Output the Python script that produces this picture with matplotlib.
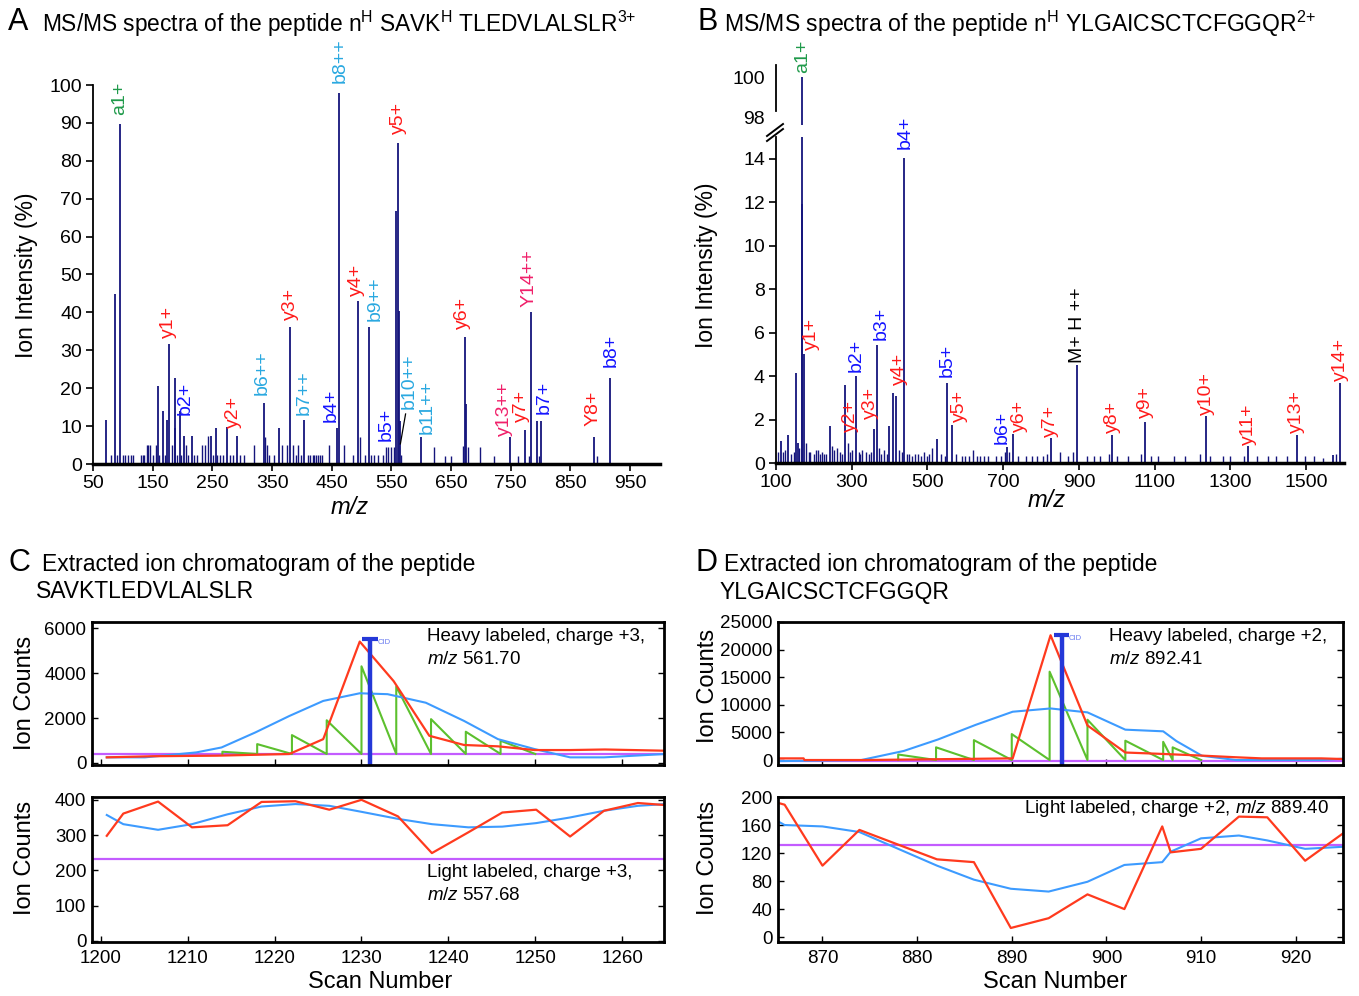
import matplotlib
matplotlib.use("Agg")
from matplotlib import pyplot as plt

plt.rcParams['font.family'] = ['Liberation Sans', 'DejaVu Sans']
plt.rcParams['mathtext.fontset'] = 'custom'
plt.rcParams['mathtext.rm'] = 'Liberation Sans'
plt.rcParams['mathtext.it'] = 'Liberation Sans:italic'

# ---------------- panel A : MS/MS spectrum, heavy SAVKTLEDVLALSLR ----------------
A_MZ = [72.6, 86.2, 95.2, 159.6, 167, 174, 177, 186.7, 188, 195, 202, 216.7, 247.7,
        255.6, 273.7, 291, 337, 362, 380, 403, 459.6, 462.4, 494, 511.6, 558.5, 560.7,
        562, 564, 599, 673.7, 675, 748.9, 774, 784.5, 794, 800.8, 890, 917]
A_INT = [11.7, 44.8, 89.7, 20.5, 13.9, 11.7, 31.6, 22.7, 9.5, 14, 7.3, 7.3, 7.3,
         9.5, 9.8, 7.3, 16, 9.5, 36.1, 11.7, 9.5, 98, 42.9, 36.1, 66.8, 84.8,
         40.4, 11.4, 7, 33.6, 15.8, 7, 9, 40.2, 11.4, 11.4, 7, 22.7]
A_SMALL_MZ = [80, 90, 100, 104, 108, 113, 117, 131, 134, 136, 140, 142, 146, 150, 155,
              160, 170, 183, 190, 198, 206, 210, 220, 225, 232, 238, 243, 251, 258, 262,
              268, 280, 284, 296, 303, 319, 339, 341, 345, 354, 366, 375, 385, 390, 394,
              398, 410, 414, 418, 421, 424, 427, 430, 434, 445, 470, 486, 497, 506, 515,
              520, 527, 536, 541, 545, 549, 555, 566, 622, 639, 650, 670, 678, 698, 722,
              762, 780, 797, 894]
A_SMALL_INT = [2.5, 2.5, 2.5, 2.5, 2.5, 2.5, 2.5, 2.5, 2.5, 2.5, 5, 5, 5, 2.5, 5,
               2.5, 2.5, 5, 2.5, 2.5, 5, 2.5, 2.5, 2.5, 5, 5, 7.3, 2.5, 2.5, 2.5,
               2.5, 2.5, 2.5, 2.5, 2.5, 5, 7, 5, 2.5, 2.5, 5, 5, 5, 2.5, 5,
               2.5, 2.5, 2.5, 2.5, 2.5, 2.5, 2.5, 2.5, 2.5, 5, 5, 2.5, 7, 2.5, 2.5,
               2.5, 2.5, 2.5, 4.6, 4.6, 4.6, 4.6, 2.5, 4.6, 2.2, 2.2, 4.8, 4.6, 4.6, 2.2,
               2.2, 2.2, 2.2, 2.2]
A_LABELS = ['a1+', 'y1+', 'b2+', 'y2+', 'b6++', 'y3+', 'b7++', 'b4+', 'b8++', 'y4+',
            'b9++', 'b5+', 'y5+', 'b10++', 'b11++', 'y6+', 'y13++', 'y7+', 'Y14++',
            'b7+', 'Y8+', 'b8+']
A_LABEL_MZ = [95.2, 177, 203.7, 285.6, 333.6, 381.6, 404.2, 449.4, 463.6, 491,
              522, 541.5, 562.4, 579, 610.5, 669.8, 740, 768.6, 780, 805.4, 887.3, 918.4]
A_LABEL_INT = [92.1, 33.2, 13, 9.5, 18.3, 38, 13, 11.2, 100.5, 44.2,
               37.6, 6.2, 87, 14.5, 7.9, 35.6, 7.5, 11, 41.3, 13.2, 10.1, 25.5]
A_LABEL_KIND = ['a', 'y', 'b', 'y', 'b2', 'y', 'b2', 'b', 'b2', 'y',
                'b2', 'b', 'y', 'b2', 'b2', 'y', 'y2', 'y', 'y2', 'b', 'y', 'b']

# ---------------- panel B : MS/MS spectrum, heavy YLGAICSCTCFGGQR ----------------
B_MZ = [112, 132.6, 152, 157, 167.8, 169.6, 174, 242.7, 282.4, 311.5, 360, 367.8,
        399.6, 410, 417, 439.2, 524.7, 552.9, 564.3, 711, 724.7, 827, 893.8, 986.3,
        1074.4, 1234.8, 1347.6, 1475.3, 1572, 1589]
B_INT = [1.0, 1.3, 4.16, 0.9, 11.9, 100, 5.03, 1.7, 3.6, 3.99, 1.58, 5.44,
         1.7, 3.24, 3.1, 14.05, 1.09, 3.7, 1.73, 0.74, 1.35, 1.17, 4.49, 1.30,
         1.87, 2.18, 0.77, 1.30, 0.38, 3.68]
B_NOISE_MZ = [105, 118, 125, 140, 147, 162, 180, 186, 190, 200, 206, 212, 217, 222, 227,
              232, 247, 254, 262, 268, 275, 290, 295, 300, 318, 323, 328, 338, 346, 352,
              372, 378, 385, 392, 425, 432, 445, 450, 460, 468, 475, 483, 490, 498, 505,
              512, 535, 545, 575, 590, 600, 610, 620, 632, 640, 650, 660, 680, 695, 705,
              715, 740, 760, 775, 790, 805, 815, 850, 870, 885, 920, 940, 955, 980, 1000,
              1030, 1065, 1090, 1110, 1150, 1180, 1220, 1245, 1280, 1300, 1335, 1370,
              1400, 1420, 1450, 1498, 1520, 1545, 1580]
B_NOISE_INT = [0.5, 0.5, 0.6, 0.4, 0.5, 0.7, 0.9, 0.5, 0.5, 0.4, 0.6, 0.6, 0.4, 0.5, 0.4,
               0.4, 0.8, 0.6, 0.7, 0.5, 0.4, 0.9, 0.5, 0.6, 0.5, 0.4, 0.6, 0.5, 0.4, 0.5,
               0.7, 0.4, 0.6, 0.4, 0.6, 0.5, 0.4, 0.4, 0.3, 0.4, 0.4, 0.3, 0.5, 0.3, 0.4,
               0.7, 0.4, 0.3, 0.4, 0.3, 0.3, 0.3, 0.6, 0.3, 0.3, 0.3, 0.3, 0.3, 0.3, 0.5,
               0.5, 0.3, 0.3, 0.3, 0.3, 0.3, 0.4, 0.5, 0.3, 0.5, 0.3, 0.3, 0.3, 0.4, 0.3,
               0.3, 0.4, 0.3, 0.3, 0.3, 0.3, 0.4, 0.3, 0.3, 0.3, 0.3, 0.3,
               0.3, 0.3, 0.3, 0.3, 0.3, 0.23, 0.4]
B_LABELS = ['a1+', 'y1+', 'y2+', 'b2+', 'y3+', 'b3+', 'y4+', 'b4+', 'b5+', 'y5+', 'b6+',
            'y6+', 'y7+', 'M+ H ++', 'y8+', 'y9+', 'y10+', 'y11+', 'y13+', 'y14+']
B_LABEL_MZ = [169.6, 194.3, 297, 311.5, 350, 379, 426, 441, 551, 584.6, 696.5,
              743, 824, 895.6, 988, 1076, 1236.6, 1347.6, 1475, 1591.6]
B_LABEL_INT = [100.2, 5.18, 1.43, 4.19, 2.04, 5.64, 3.57, 14.46, 3.96, 1.89, 0.89,
               1.43, 1.2, 4.6, 1.38, 2.07, 2.22, 0.84, 1.38, 3.79]
B_LABEL_KIND = ['a', 'y', 'y', 'b', 'y', 'b', 'y', 'b', 'b', 'y', 'b',
                'y', 'y', 'M', 'y', 'y', 'y', 'y', 'y', 'y']

# ---------------- panel C : XIC SAVKTLEDVLALSLR ----------------
C_RED_SCAN = [1200.7, 1206, 1213.4, 1221.7, 1225.6, 1229.8, 1233.7, 1237.8, 1241.8,
              1245.7, 1249.9, 1254, 1258, 1265]
C_RED = [250, 300, 325, 400, 1060, 5400, 3640, 1210, 800, 740, 575, 575, 600, 545]
C_BLUE_SCAN = [1200.7, 1205.1, 1211, 1213.9, 1217.8, 1221.7, 1225.6, 1229.8, 1233,
               1237.4, 1241.8, 1245.7, 1249.9, 1254, 1257.9, 1265]
C_BLUE = [250, 250, 470, 690, 1360, 2090, 2760, 3100, 3060, 2680, 1870, 1060, 620,
          250, 250, 400]
C_MS2_SCAN = [1214, 1218, 1222, 1226, 1230, 1234, 1238, 1242, 1246, 1250]
C_MS2 = [500, 840, 1240, 1900, 4300, 3400, 1950, 1390, 990]
C_MS2_BASE = 400
C_BASELINE = 380
C_CID_SCAN = 1231
C_CID_TOP = 5500
C_LIGHT_SCAN = [1200.7, 1202.6, 1206.6, 1210.5, 1214.6, 1218.5, 1222.4, 1226.3, 1230,
                1234.2, 1238.1, 1242.3, 1246.2, 1250.1, 1254, 1257.9, 1261.8, 1265]
C_LIGHT_RED = [298, 361, 395, 322, 328, 394, 396, 372, 400, 353, 249, 308, 364, 372,
               296, 369, 391, 385]
C_LIGHT_BLUE = [357, 331, 315, 331, 359, 381, 388, 383, 366, 346, 331, 322, 324, 334,
                350, 369, 383, 388]
C_LIGHT_BASELINE = 231

# ---------------- panel D : XIC YLGAICSCTCFGGQR ----------------
D_RED_SCAN = [865.3, 868, 868.1, 874.5, 890.1, 894.1, 898, 902, 906, 910.1, 913.7,
              916.4, 922.7, 925]
D_RED = [300, 300, 0, 0, 300, 22600, 6260, 1360, 1100, 800, 500, 300, 300, 180]
D_BLUE_SCAN = [865.3, 874.1, 878.6, 882.2, 886.2, 890.1, 894.1, 898, 902, 906,
               907.4, 910.1, 913.7, 922.7, 925]
D_BLUE = [-200, 0, 1650, 3720, 6380, 8750, 9340, 8630, 5500, 5200, 3430, 770, 0, 0, 250]
D_MS2_SCAN = [878, 882, 886, 890, 894, 898, 902, 906, 907, 910]
D_MS2 = [1000, 2300, 3600, 4700, 16000, 7300, 3500, 3300, 2300]
D_MS2_BASE = 0
D_BASELINE = -150
D_CID_SCAN = 895.3
D_CID_TOP = 22600
D_LIGHT_SCAN = [865.2, 866, 870, 873.9, 878, 882.1, 886, 889.9, 893.9, 898, 901.9,
                905.9, 906.8, 910, 914, 917, 921, 925.1]
D_LIGHT_RED = [192, 189, 102, 153, 132, 111, 107, 13, 27, 61, 40, 158, 121, 126, 172,
               171, 109, 149]
D_LIGHT_BLUE = [166, 160, 158, 150, 126, 102, 82, 69, 65, 79, 103, 107, 122, 141,
                145, 138, 126, 129]
D_LIGHT_BASELINE = 131

# ---------------- styles ----------------
W, H = 1359, 996
PEAK = '#15157c'
KIND_COLOR = {'a': '#1f9a4a', 'y': '#ff1a1a', 'b': '#1414ff', 'b2': '#29a8e0',
              'y2': '#f0206a', 'M': 'black'}
XIC_RED, XIC_BLUE, XIC_GREEN, XIC_MAG = '#ff3a1e', '#3d9bff', '#5cc02e', '#c35cff'
CID = '#2438d8'
LABEL_FS = 14
TICK_FS = 14


def box(l, t, r, b):
    return [l / W, 1 - b / H, (r - l) / W, (b - t) / H]


def ftext(x, y, s, **kw):
    fig.text(x / W, 1 - y / H, s, **kw)


fig = plt.figure(figsize=(W / 100, H / 100), dpi=100)

# ---- A
axA = fig.add_axes(box(93, 85, 660, 464))
axA.vlines(A_SMALL_MZ, 0, A_SMALL_INT, color=PEAK, lw=1.0)
axA.vlines(A_MZ, 0, A_INT, color=PEAK, lw=1.3)
for lab, x, y, k in zip(A_LABELS, A_LABEL_MZ, A_LABEL_INT, A_LABEL_KIND):
    axA.text(x, y, lab, rotation=90, ha='center', va='bottom', fontsize=LABEL_FS,
             color=KIND_COLOR[k], clip_on=False)
axA.plot([573.7, 565], [13.2, 5.3], color='black', lw=0.9)
axA.set_xlim(50, 1000)
axA.set_ylim(0, 100)
axA.set_xticks(range(50, 1000, 100))
axA.set_yticks(range(0, 101, 10))
for s in ['top', 'right']:
    axA.spines[s].set_visible(False)
axA.spines['left'].set_linewidth(1.3)
axA.spines['bottom'].set_linewidth(2.5)
axA.tick_params(direction='out', length=5, width=1.2, labelsize=TICK_FS, pad=3)

ftext(8, 22, 'A', fontsize=22, va='center')
ftext(42, 24, r'MS/MS spectra of the peptide n$^{\mathrm{H}}$ SAVK$^{\mathrm{H}}$ TLEDVLALSLR$^{3{+}}$',
      fontsize=16.4, va='center')
ftext(26, 275, 'Ion Intensity (%)', fontsize=16.5, rotation=90, ha='center', va='center')
ftext(350, 508, 'm/z', fontsize=17, style='italic', ha='center', va='center')

# ---- B (broken y axis)
axB = fig.add_axes(box(776, 137, 1344, 463))
axBt = fig.add_axes(box(776, 65, 1344, 125))
axBt.patch.set_visible(False)
for ax in (axB, axBt):
    ax.vlines(B_NOISE_MZ, 0, B_NOISE_INT, color=PEAK, lw=1.0)
    ax.vlines(B_MZ, 0, B_INT, color=PEAK, lw=1.3)
    ax.set_xlim(100, 1600)
    for s in ['top', 'right']:
        ax.spines[s].set_visible(False)
axB.set_ylim(0, 15)
axB.set_yticks(range(0, 15, 2))
axB.set_xticks(range(100, 1600, 200))
axB.spines['left'].set_linewidth(1.3)
axB.spines['bottom'].set_linewidth(2.5)
axB.tick_params(direction='out', length=5, width=1.2, labelsize=TICK_FS, pad=3)
axBt.set_ylim(97.6, 100.6)
axBt.set_yticks([98, 100])
axBt.spines['bottom'].set_visible(False)
axBt.spines['left'].set_bounds(98.3, 100.6)
axBt.spines['left'].set_linewidth(1.3)
axBt.set_xticks([])
axBt.tick_params(axis='y', length=0, labelsize=TICK_FS, pad=8)
for lab, x, y, k in zip(B_LABELS, B_LABEL_MZ, B_LABEL_INT, B_LABEL_KIND):
    tgt = axBt if y > 50 else axB
    tgt.text(x, y, lab, rotation=90, ha='center', va='bottom', fontsize=LABEL_FS,
             color=KIND_COLOR[k], clip_on=False, zorder=5)
for dy in (0, 5):
    fig.add_artist(plt.Line2D([767 / W, 783 / W], [1 - (136 + dy) / H, 1 - (124 + dy) / H],
                              color='black', lw=1.4))

ftext(697, 22, 'B', fontsize=22, va='center')
ftext(724, 24, r'MS/MS spectra of the peptide n$^{\mathrm{H}}$ YLGAICSCTCFGGQR$^{2{+}}$',
      fontsize=16.6, va='center')
ftext(707, 265, 'Ion Intensity (%)', fontsize=16.5, rotation=90, ha='center', va='center')
ftext(1047, 500, 'm/z', fontsize=17, style='italic', ha='center', va='center')


# ---- C / D chromatograms
def xic_frame(ax, xlim, ylim, xticks, yticks, show_x):
    ax.set_xlim(*xlim)
    ax.set_ylim(*ylim)
    ax.set_xticks(xticks)
    ax.set_yticks(yticks)
    for s in ax.spines.values():
        s.set_linewidth(2)
    ax.tick_params(direction='in', length=4, width=1, right=True, labelsize=TICK_FS - 0.5)
    ax.tick_params(axis='x', pad=6)
    ax.tick_params(axis='y', pad=4)
    if not show_x:
        ax.tick_params(axis='x', labelbottom=False)


def sawtooth(scans, peaks, base):
    xs, ys = [scans[0]], [base]
    for i, p in enumerate(peaks):
        xs += [scans[i], scans[i + 1]]
        ys += [p, base]
    return xs, ys


def heavy(ax, rs, r, bs, b, ms_s, ms, ms_base, basel, cid_x, cid_top, cap):
    ax.axhline(basel, color=XIC_MAG, lw=1.6)
    xs, ys = sawtooth(ms_s, ms, ms_base)
    ax.plot(xs, ys, color=XIC_GREEN, lw=1.5)
    ax.plot(bs, b, color=XIC_BLUE, lw=1.5)
    ax.plot(rs, r, color=XIC_RED, lw=1.6)
    ax.vlines(cid_x, ax.get_ylim()[0], cid_top, color=CID, lw=3.2)
    ax.hlines(cid_top, cid_x - cap, cid_x + cap, color=CID, lw=3)
    ax.text(cid_x + cap * 0.9, cid_top, 'CID', fontsize=5.5, color='#6a7cf0',
            va='top', ha='left')


C_TICKS = list(range(1200, 1261, 10))
C_XLIM = (1199, 1264.8)
axC = fig.add_axes(box(92, 622, 664, 765))
xic_frame(axC, C_XLIM, (-90, 6270), C_TICKS, [0, 2000, 4000, 6000], False)
heavy(axC, C_RED_SCAN, C_RED, C_BLUE_SCAN, C_BLUE, C_MS2_SCAN, C_MS2, C_MS2_BASE,
      C_BASELINE, C_CID_SCAN, C_CID_TOP, 0.9)
axC.text(0.585, 0.90, 'Heavy labeled, charge +3,', transform=axC.transAxes, fontsize=13.5,
         va='center')
axC.text(0.585, 0.74, r'$\mathit{m/z}$ 561.70', transform=axC.transAxes, fontsize=13.5,
         va='center')

axC2 = fig.add_axes(box(92, 797, 664, 942))
xic_frame(axC2, C_XLIM, (-3, 408), C_TICKS, [0, 100, 200, 300, 400], True)
axC2.axhline(C_LIGHT_BASELINE, color=XIC_MAG, lw=1.6)
axC2.plot(C_LIGHT_SCAN, C_LIGHT_BLUE, color=XIC_BLUE, lw=1.5)
axC2.plot(C_LIGHT_SCAN, C_LIGHT_RED, color=XIC_RED, lw=1.6)
axC2.text(0.585, 0.48, 'Light labeled, charge +3,', transform=axC2.transAxes,
          fontsize=13.5, va='center')
axC2.text(0.585, 0.32, r'$\mathit{m/z}$ 557.68', transform=axC2.transAxes, fontsize=13.5,
          va='center')

ftext(8, 563, 'C', fontsize=22, va='center')
ftext(42, 564, 'Extracted ion chromatogram of the peptide', fontsize=16.5, va='center')
ftext(36, 592, 'SAVKTLEDVLALSLR', fontsize=16.5, va='center')
ftext(25, 693, 'Ion Counts', fontsize=17, rotation=90, ha='center', va='center')
ftext(25, 858, 'Ion Counts', fontsize=17, rotation=90, ha='center', va='center')
ftext(380, 982, 'Scan Number', fontsize=17, ha='center', va='center')

D_TICKS = list(range(870, 921, 10))
axD = fig.add_axes(box(778, 622, 1343, 765))
xic_frame(axD, (865.3, 925), (-900, 25000), D_TICKS,
          [0, 5000, 10000, 15000, 20000, 25000], False)
heavy(axD, D_RED_SCAN, D_RED, D_BLUE_SCAN, D_BLUE, D_MS2_SCAN, D_MS2, D_MS2_BASE,
      D_BASELINE, D_CID_SCAN, D_CID_TOP, 0.8)
axD.text(0.585, 0.90, 'Heavy labeled, charge +2,', transform=axD.transAxes, fontsize=13.5,
         va='center')
axD.text(0.585, 0.74, r'$\mathit{m/z}$ 892.41', transform=axD.transAxes, fontsize=13.5,
         va='center')

axD2 = fig.add_axes(box(778, 797, 1343, 942))
xic_frame(axD2, (865.3, 925), (-7, 200), D_TICKS, [0, 40, 80, 120, 160, 200], True)
axD2.axhline(D_LIGHT_BASELINE, color=XIC_MAG, lw=1.6)
axD2.plot(D_LIGHT_SCAN, D_LIGHT_BLUE, color=XIC_BLUE, lw=1.5)
axD2.plot(D_LIGHT_SCAN, D_LIGHT_RED, color=XIC_RED, lw=1.6)
axD2.text(0.975, 0.92, r'Light labeled, charge +2, $\mathit{m/z}$ 889.40',
          transform=axD2.transAxes, fontsize=13.5, va='center', ha='right')

ftext(695, 563, 'D', fontsize=22, va='center')
ftext(724, 564, 'Extracted ion chromatogram of the peptide', fontsize=16.5, va='center')
ftext(720, 592, 'YLGAICSCTCFGGQR', fontsize=16.5, va='center')
ftext(708, 686, 'Ion Counts', fontsize=17, rotation=90, ha='center', va='center')
ftext(708, 858, 'Ion Counts', fontsize=17, rotation=90, ha='center', va='center')
ftext(1055, 982, 'Scan Number', fontsize=17, ha='center', va='center')

fig.savefig('out.png', dpi=100)
